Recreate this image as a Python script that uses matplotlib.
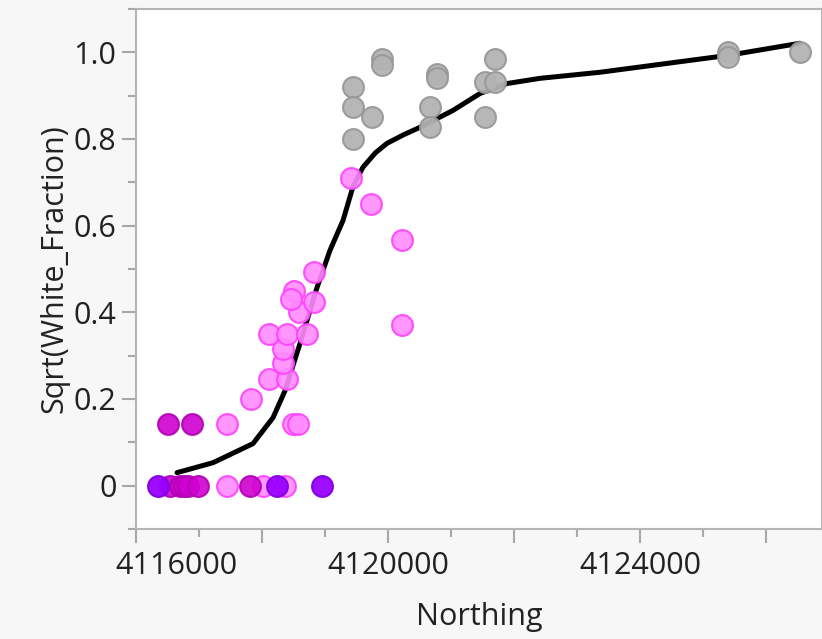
import numpy as np
import matplotlib.pyplot as plt
from matplotlib.ticker import MultipleLocator, FuncFormatter

plt.rcParams['font.family'] = ['Open Sans', 'DejaVu Sans']

# grupy punktów (Northing, Sqrt(White_Fraction))
szare_x = [4119444, 4119444, 4119444, 4119746, 4119905, 4119905, 4120778, 4120778,
           4120667, 4120667, 4121540, 4121698, 4121698, 4121540, 4125397, 4125397, 4126540]
szare_y = [0.919, 0.873, 0.80, 0.85, 0.984, 0.97, 0.951, 0.94,
           0.873, 0.827, 0.931, 0.931, 0.984, 0.85, 1.0, 0.99, 1.0]

rozowe_x = [4117444, 4118492, 4118571, 4117444, 4118016, 4118365, 4117825, 4118111,
            4118397, 4118333, 4118333, 4118111, 4118397, 4118714, 4118587, 4118825,
            4118508, 4118460, 4118825, 4119413, 4119730, 4120222, 4120222]
rozowe_y = [0.143, 0.143, 0.143, 0.0, 0.0, 0.0, 0.20, 0.247,
            0.247, 0.284, 0.316, 0.349, 0.349, 0.349, 0.40, 0.425,
            0.45, 0.43, 0.492, 0.709, 0.649, 0.568, 0.37]

magenta_x = [4116508, 4116889, 4116540, 4116698, 4116760, 4116825, 4116984, 4117810]
magenta_y = [0.143, 0.143, 0.0, 0.0, 0.0, 0.0, 0.0, 0.0]

fiolet_x = [4116349, 4118238, 4118952]
fiolet_y = [0.0, 0.0, 0.0]

# linia wygładzona
linia_x = [4116651, 4117222, 4117857, 4118175, 4118365, 4118603, 4118873, 4119079,
           4119286, 4119444, 4119603, 4119800, 4119984, 4120250, 4120508, 4121032,
           4121460, 4121889, 4122413, 4123365, 4125397, 4126540]
linia_y = [0.030, 0.053, 0.097, 0.157, 0.219, 0.328, 0.457, 0.543,
           0.612, 0.690, 0.735, 0.768, 0.790, 0.810, 0.827, 0.866,
           0.905, 0.928, 0.940, 0.954, 0.993, 1.021]

fig = plt.figure(figsize=(8.22, 6.39), dpi=100, facecolor="#f7f7f7")
ax = fig.add_axes([136 / 822, 110 / 639, 686 / 822, 520 / 639])
ax.set_facecolor("white")

ax.plot(linia_x, linia_y, color="black", lw=3.6, zorder=2,
        solid_capstyle="round", solid_joinstyle="round")

s = 225
ax.scatter(szare_x, szare_y, s=s, color="#b3b3b3", edgecolor="#989898", lw=1.5, zorder=3, alpha=0.95)
ax.scatter(rozowe_x, rozowe_y, s=s, color="#ff8cff", edgecolor="#ff40ff", lw=1.5, zorder=3, alpha=0.9)
ax.scatter(magenta_x, magenta_y, s=s, color="#d000d0", edgecolor="#b000b0", lw=1.5, zorder=3, alpha=0.9)
ax.scatter(fiolet_x, fiolet_y, s=s, color="#9a00ff", edgecolor="#8000e0", lw=1.5, zorder=3, alpha=0.95)

ax.set_xlim(4116000, 4126889)
ax.set_ylim(-0.1, 1.1)


def x_fmt(v, p):
    # etykiety tylko co 4000, pierwsza rysowana osobno
    if abs(v - 4116000) < 1 or round(v) % 4000 != 0:
        return ""
    return "%d" % v


ax.xaxis.set_major_locator(MultipleLocator(2000))
ax.xaxis.set_minor_locator(MultipleLocator(1000))
ax.yaxis.set_major_locator(MultipleLocator(0.2))
ax.yaxis.set_minor_locator(MultipleLocator(0.1))
ax.xaxis.set_major_formatter(FuncFormatter(x_fmt))
ax.yaxis.set_major_formatter(FuncFormatter(lambda v, p: "0" if abs(v) < 1e-9 else "%.1f" % v))

ax.tick_params(axis="both", which="major", length=10, width=1.5, color="#a8a8a8",
               labelsize=22, labelcolor="#222222")
ax.tick_params(axis="both", which="minor", length=6, width=1.5, color="#a8a8a8")
ax.tick_params(axis="x", which="major", pad=6)
ax.tick_params(axis="y", which="major", pad=4)

# pierwsza etykieta przesunięta w prawo jak w oryginale
ax.annotate("4116000", xy=(4116000, 0), xycoords=ax.get_xaxis_transform(),
            xytext=(29, -16), textcoords="offset points", ha="center", va="top",
            fontsize=22, color="#222222", annotation_clip=False)

for sp in ax.spines.values():
    sp.set_color("#b4b4b4")
    sp.set_linewidth(1.5)

ax.set_xlabel("Northing", fontsize=22, color="#222222", labelpad=15)
ax.set_ylabel("Sqrt(White_Fraction)", fontsize=22, color="#222222", labelpad=3)

fig.savefig("out.png", dpi=100, facecolor=fig.get_facecolor())
